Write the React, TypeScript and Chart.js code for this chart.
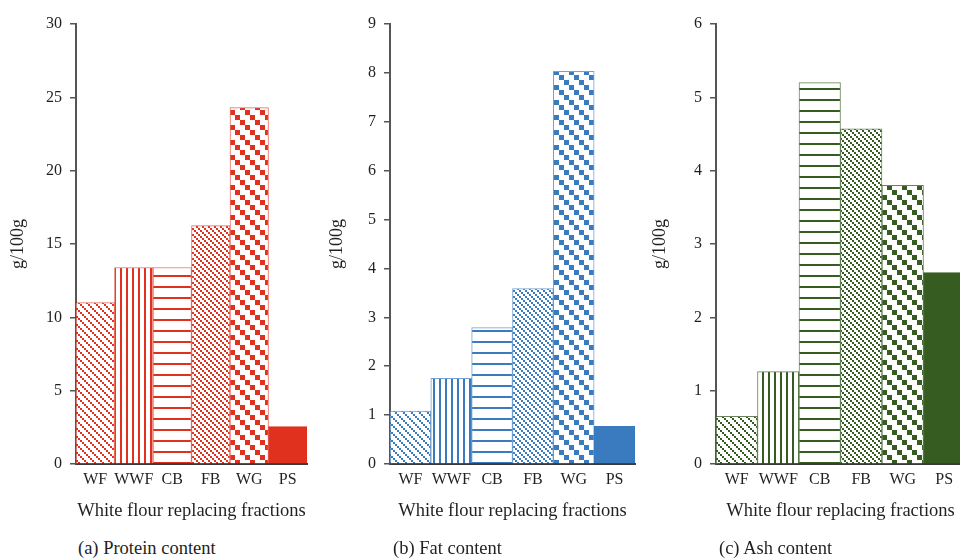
import React, { useEffect, useRef } from "react";
import { Chart, registerables } from "chart.js";
Chart.register(...registerables);

const categories = ["WF", "WWF", "CB", "FB", "WG", "PS"];
const proteinValues = [11.0, 13.4, 13.4, 16.25, 24.3, 2.55];
const fatValues = [1.08, 1.75, 2.79, 3.59, 8.03, 0.77];
const ashValues = [0.65, 1.26, 5.2, 4.57, 3.8, 2.61];
const patternKinds = ["diagSmall", "vert", "horiz", "diagDense", "diagLarge", "solid"];

const xTitle = "White flour replacing fractions";
const yTitle = "g/100g";
const FONT = "'Liberation Serif', 'Times New Roman', serif";

type PanelCfg = {
  values: number[];
  color: string;
  border: string;
  max: number;
  step: number;
  left: number;
  width: number;
  axisW: number;
  padRight: number;
  caption: string;
  captionX: number;
};

const panels: PanelCfg[] = [
  { values: proteinValues, color: "#e0301e", border: "rgba(224,48,30,0.7)", max: 30, step: 5, left: 0, width: 320, axisW: 76, padRight: 13, caption: "(a) Protein content", captionX: 78 },
  { values: fatValues, color: "#3a7bbf", border: "rgba(58,123,191,0.7)", max: 9, step: 1, left: 319, width: 330, axisW: 71, padRight: 14, caption: "(b) Fat content", captionX: 393 },
  { values: ashValues, color: "#365c22", border: "rgba(54,92,34,0.75)", max: 6, step: 1, left: 642, width: 340, axisW: 74, padRight: 17, caption: "(c) Ash content", captionX: 719 },
];

function makePattern(kind: string, color: string): CanvasPattern | string {
  if (kind === "solid") return color;
  const c = document.createElement("canvas");
  let w = 8, h = 8;
  if (kind === "vert") { w = 6; h = 1; }
  if (kind === "horiz") { w = 1; h = 11; }
  if (kind === "diagDense") { w = 6; h = 6; }
  if (kind === "diagLarge") { w = 15; h = 15; }
  c.width = w; c.height = h;
  const ctx = c.getContext("2d")!;
  ctx.fillStyle = "#ffffff";
  ctx.fillRect(0, 0, w, h);
  ctx.fillStyle = color;
  if (kind === "vert") ctx.fillRect(0, 0, 2, 1);
  else if (kind === "horiz") ctx.fillRect(0, 0, 1, 2);
  else if (kind === "diagSmall") { for (let i = 0; i < 4; i++) ctx.fillRect(i * 2, i * 2, 2, 2); }
  else if (kind === "diagDense") { for (let i = 0; i < 3; i++) ctx.fillRect(i * 2, i * 2, 2, 2); }
  else if (kind === "diagLarge") { for (let i = 0; i < 3; i++) ctx.fillRect(i * 5, i * 5, 5, 5); }
  return ctx.createPattern(c, "repeat")!;
}

const CANVAS_H = 530;
const AREA_TOP = 24;
const AREA_BOTTOM = 464;

function Panel({ cfg }: { cfg: PanelCfg }) {
  const ref = useRef<HTMLCanvasElement | null>(null);
  useEffect(() => {
    if (!ref.current) return;
    const fills = patternKinds.map((k) => makePattern(k, cfg.color));
    const chart = new Chart(ref.current, {
      type: "bar",
      data: {
        labels: categories,
        datasets: [
          {
            data: cfg.values,
            backgroundColor: fills as any,
            borderColor: patternKinds.map((k) => (k === "solid" ? cfg.color : cfg.border)),
            borderWidth: 1,
            barPercentage: 1,
            categoryPercentage: 1,
          },
        ],
      },
      options: {
        animation: false,
        responsive: false,
        devicePixelRatio: 1,
        layout: { padding: { left: 0, right: cfg.padRight, top: AREA_TOP, bottom: 0 } },
        plugins: { legend: { display: false }, tooltip: { enabled: false }, title: { display: false } },
        scales: {
          x: {
            offset: true,
            grid: { display: false, drawTicks: false },
            border: { display: true, color: "#3a3a3a", width: 2 },
            ticks: { color: "#231f20", font: { family: FONT, size: 16 }, padding: 6, maxRotation: 0, autoSkip: false },
            title: { display: true, text: xTitle, color: "#231f20", font: { family: FONT, size: 18.5 }, padding: { top: 4, bottom: 8 } },
            afterFit: (s: any) => { s.height = CANVAS_H - AREA_BOTTOM; },
          },
          y: {
            min: 0,
            max: cfg.max,
            ticks: { stepSize: cfg.step, color: "#231f20", font: { family: FONT, size: 16 }, padding: 8 },
            grid: { display: true, drawOnChartArea: false, drawTicks: true, tickLength: 6, color: "#555555", lineWidth: 1.5 },
            border: { display: true, color: "#555555", width: 2 },
            title: { display: true, text: yTitle, color: "#231f20", font: { family: FONT, size: 18 }, padding: { top: 7, bottom: 0 } },
            afterFit: (s: any) => { s.width = cfg.axisW; },
          },
        },
      },
    });
    return () => chart.destroy();
  }, [cfg]);
  return (
    <>
      <canvas
        ref={ref}
        width={cfg.width}
        height={CANVAS_H}
        style={{ position: "absolute", left: cfg.left, top: 0, width: cfg.width, height: CANVAS_H }}
      />
      <div
        style={{
          position: "absolute",
          left: cfg.captionX,
          top: 537,
          fontFamily: FONT,
          fontSize: 18.5,
          lineHeight: "22px",
          color: "#231f20",
          whiteSpace: "nowrap",
        }}
      >
        {cfg.caption}
      </div>
    </>
  );
}

export default function App() {
  return (
    <div style={{ position: "fixed", left: 0, top: 0, width: 960, height: 558, overflow: "hidden", background: "#ffffff" }}>
      {panels.map((p, i) => (
        <Panel key={i} cfg={p} />
      ))}
    </div>
  );
}
